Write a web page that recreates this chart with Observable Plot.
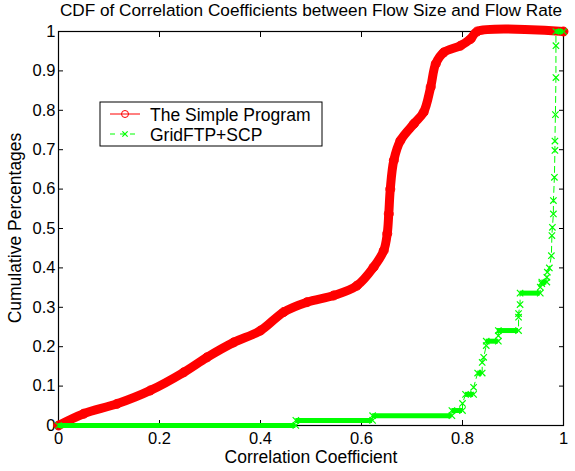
<!DOCTYPE html>
<html>
<head>
<meta charset="utf-8">
<script src="https://cdn.jsdelivr.net/npm/d3@7"></script>
<script src="https://cdn.jsdelivr.net/npm/@observablehq/plot@0.6"></script>
<style>
  body { margin: 0; background: #fff; }
  svg { font-family: "Liberation Sans", Arial, sans-serif; }
</style>
</head>
<body>
<div id="chart"></div>
<script>
// red curve: The Simple Program
const redX = [0, 0.05, 0.116, 0.182, 0.248, 0.294, 0.347, 0.4, 0.446, 0.492, 0.545, 0.591, 0.624, 0.644, 0.651, 0.654, 0.657, 0.664, 0.677, 0.704, 0.723, 0.737, 0.747, 0.763, 0.796, 0.816, 0.829, 1.0];
const redY = [0, 0.03, 0.055, 0.089, 0.135, 0.173, 0.211, 0.241, 0.288, 0.313, 0.33, 0.355, 0.402, 0.444, 0.487, 0.537, 0.6, 0.673, 0.723, 0.766, 0.795, 0.859, 0.918, 0.947, 0.964, 0.981, 1.0, 1.0];

// green curve: GridFTP+SCP
const greenX = [0, 0.47, 0.47, 0.622, 0.622, 0.779, 0.779, 0.80, 0.80, 0.806, 0.822, 0.822, 0.83, 0.839, 0.839, 0.842, 0.847, 0.847, 0.871, 0.871, 0.871, 0.911, 0.911, 0.911, 0.914, 0.914, 0.954, 0.954, 0.957, 0.957, 0.967, 0.967, 0.968, 0.972, 0.976, 0.977, 0.978, 0.98, 0.98, 0.982, 0.983, 0.983, 0.984, 0.985, 0.985, 0.985, 1.0];
const greenY = [0, 0, 0.013, 0.013, 0.025, 0.025, 0.038, 0.038, 0.056, 0.079, 0.079, 0.097, 0.133, 0.133, 0.16, 0.173, 0.203, 0.214, 0.214, 0.228, 0.241, 0.241, 0.275, 0.284, 0.307, 0.336, 0.336, 0.351, 0.36, 0.364, 0.364, 0.376, 0.389, 0.40, 0.431, 0.482, 0.503, 0.537, 0.571, 0.63, 0.698, 0.722, 0.789, 0.883, 0.964, 1.0, 1.0];

// flat runs of the green CDF (dense markers look like thick bars)
const stepX1 = [0, 0.47, 0.622, 0.779, 0.806, 0.83, 0.847, 0.869, 0.914, 0.957, 0.985];
const stepX2 = [0.47, 0.622, 0.779, 0.80, 0.822, 0.839, 0.871, 0.911, 0.954, 0.967, 1.0];
const stepY  = [0, 0.013, 0.025, 0.038, 0.079, 0.133, 0.214, 0.241, 0.336, 0.364, 1.0];

const xTicks = [0, 0.2, 0.4, 0.6, 0.8, 1];
const yTicks = [0, 0.1, 0.2, 0.3, 0.4, 0.5, 0.6, 0.7, 0.8, 0.9, 1];

const red = redX.map((x, i) => ({x, y: redY[i]}));
const green = greenX.map((x, i) => ({x, y: greenY[i]}));
const steps = stepX1.map((x1, i) => ({x1, x2: stepX2[i], y: stepY[i]}));

const RED = "#ff0000", GREEN = "#00ff00";
const noText = () => "";

let chart = Plot.plot({
  width: 575,
  height: 471,
  marginLeft: 58,
  marginRight: 12,
  marginTop: 31,
  marginBottom: 46,
  style: {fontSize: "16.5px", fontFamily: "Liberation Sans, Arial, sans-serif", background: "#fff", color: "#000"},
  x: {domain: [0, 1]},
  y: {domain: [0, 1]},
  marks: [
    // ticks pointing inwards, all four sides
    Plot.axisX({anchor: "bottom", ticks: xTicks, tickSize: -5, tickFormat: noText, label: null}),
    Plot.axisX({anchor: "top", ticks: xTicks, tickSize: -5, tickFormat: noText, label: null}),
    Plot.axisY({anchor: "left", ticks: yTicks, tickSize: -5, tickFormat: noText, label: null}),
    Plot.axisY({anchor: "right", ticks: yTicks, tickSize: -5, tickFormat: noText, label: null}),
    // tick labels
    Plot.axisX({anchor: "bottom", ticks: xTicks, tickSize: 0, tickPadding: 7, tickFormat: d => String(d), label: null}),
    Plot.axisY({anchor: "left", ticks: yTicks, tickSize: 0, tickPadding: 3, tickFormat: d => String(d), label: null}),
    Plot.frame({stroke: "#000", strokeWidth: 1.2}),

    // red
    Plot.line(red, {x: "x", y: "y", stroke: RED, strokeWidth: 9, curve: "catmull-rom"}),
    Plot.dot(red, {x: "x", y: "y", r: 4.5, stroke: RED, fill: "none", strokeWidth: 1}),

    // green
    Plot.ruleY(steps, {x1: "x1", x2: "x2", y: "y", stroke: GREEN, strokeWidth: 5}),
    Plot.line(green, {x: "x", y: "y", stroke: GREEN, strokeWidth: 1, strokeDasharray: "6,4"}),
    Plot.dot(green, {x: "x", y: "y", symbol: "times", r: 3, stroke: GREEN, strokeWidth: 1.2})
  ]
});

const svg = d3.select(chart);

// title
svg.append("text")
  .attr("x", 311).attr("y", 16)
  .attr("text-anchor", "middle")
  .style("font-size", "17.2px")
  .text("CDF of Correlation Coefficients between Flow Size and Flow Rate");

// axis labels
svg.append("text")
  .attr("x", 311).attr("y", 463)
  .attr("text-anchor", "middle")
  .style("font-size", "17.5px")
  .text("Correlation Coefficient");

svg.append("text")
  .attr("transform", "translate(21,228) rotate(-90)")
  .attr("text-anchor", "middle")
  .style("font-size", "17.5px")
  .text("Cumulative Percentages");

// legend
const lg = svg.append("g").attr("text-anchor", "start");
lg.append("rect")
  .attr("x", 100).attr("y", 102).attr("width", 222).attr("height", 44)
  .attr("fill", "#fff").attr("stroke", "#000").attr("stroke-width", 1);
lg.append("line").attr("x1", 110).attr("x2", 140).attr("y1", 114).attr("y2", 114)
  .attr("stroke", RED).attr("stroke-width", 1);
lg.append("circle").attr("cx", 125).attr("cy", 114).attr("r", 3.5)
  .attr("fill", "none").attr("stroke", RED);
lg.append("line").attr("x1", 110).attr("x2", 140).attr("y1", 134).attr("y2", 134)
  .attr("stroke", GREEN).attr("stroke-width", 1).attr("stroke-dasharray", "5,5");
lg.append("path").attr("d", d3.symbol(d3.symbolTimes, 20)()).attr("transform", "translate(125,134)")
  .attr("fill", "none").attr("stroke", GREEN).attr("stroke-width", 1.2);
lg.append("text").attr("x", 150).attr("y", 120.5).attr("text-anchor", "start").style("font-size", "17.5px").text("The Simple Program");
lg.append("text").attr("x", 150).attr("y", 140.5).attr("text-anchor", "start").style("font-size", "17.5px").text("GridFTP+SCP");

d3.select("#chart").append(() => chart);
</script>
</body>
</html>
